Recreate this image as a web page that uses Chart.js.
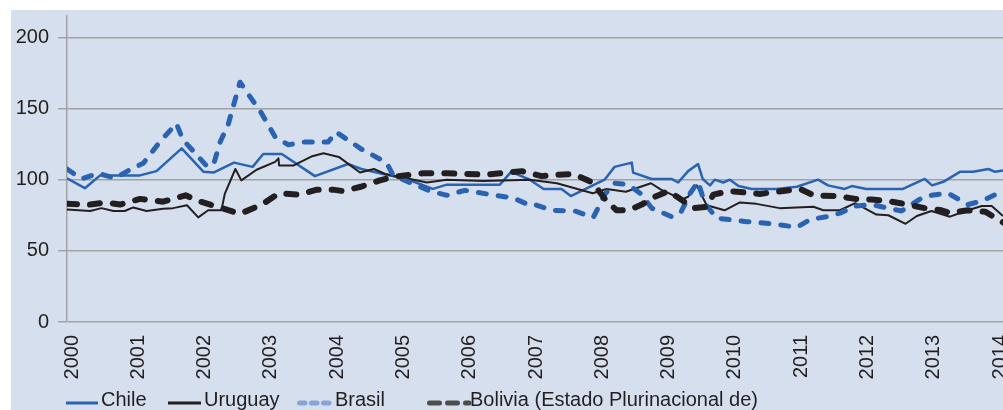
<!DOCTYPE html>
<html>
<head>
<meta charset="utf-8">
<title>Chart</title>
<script src="https://cdn.jsdelivr.net/npm/chart.js@4.4.1/dist/chart.umd.min.js"></script>
<style>
  html, body { margin: 0; padding: 0; background: #fff; }
  canvas { display: block; }
</style>
</head>
<body>
<canvas id="chartLine" width="1003" height="410"></canvas>
<script>
const yearTicks = [2000, 2001, 2002, 2003, 2004, 2005, 2006, 2007, 2008, 2009, 2010, 2011, 2012, 2013, 2014];
const yTicks = [0, 50, 100, 150, 200];
const seriesNames = ['Chile', 'Uruguay', 'Brasil', 'Bolivia (Estado Plurinacional de)'];

// fechas en años decimales
const chileT = [2000.00, 2000.27, 2000.50, 2001.10, 2001.35, 2001.73, 2002.06, 2002.21, 2002.52, 2002.80, 2002.96, 2003.24, 2003.74, 2004.24, 2004.44, 2004.77, 2005.12, 2005.52, 2005.73, 2006.53, 2006.70, 2006.98, 2007.19, 2007.46, 2007.60, 2008.11, 2008.26, 2008.52, 2008.54, 2008.82, 2009.12, 2009.22, 2009.37, 2009.52, 2009.59, 2009.70, 2009.77, 2009.90, 2010.00, 2010.13, 2010.33, 2010.70, 2011.01, 2011.33, 2011.48, 2011.73, 2011.84, 2012.06, 2012.61, 2012.94, 2013.05, 2013.22, 2013.47, 2013.67, 2013.90, 2014.00, 2014.12];
const chileV = [101, 94, 103, 103, 106, 122, 105.5, 105, 112, 109, 118, 118, 102.5, 111, 107.5, 104, 100.5, 93.5, 96.5, 96.5, 105.5, 100, 93.5, 93.5, 88.5, 100, 109, 112, 105, 100.5, 100.5, 98, 106, 111, 100.5, 96, 100, 98, 100, 95.5, 93.5, 93.5, 95, 100, 96, 93.5, 95.5, 93.5, 93.5, 100.5, 96, 98.5, 105.5, 105.5, 107.5, 105.5, 106.5];

const uruguayT = [2000.00, 2000.35, 2000.52, 2000.70, 2000.87, 2001.00, 2001.20, 2001.45, 2001.60, 2001.81, 2001.98, 2002.13, 2002.33, 2002.38, 2002.54, 2002.63, 2002.86, 2003.14, 2003.19, 2003.20, 2003.42, 2003.70, 2003.87, 2004.10, 2004.42, 2004.63, 2004.80, 2005.12, 2005.43, 2005.73, 2006.28, 2006.98, 2007.39, 2007.93, 2008.14, 2008.43, 2008.81, 2008.96, 2009.10, 2009.27, 2009.37, 2009.50, 2009.65, 2009.92, 2010.15, 2010.40, 2010.75, 2011.26, 2011.41, 2011.66, 2011.89, 2012.21, 2012.39, 2012.65, 2012.82, 2013.04, 2013.32, 2013.59, 2013.80, 2013.95, 2014.12];
const uruguayV = [79, 78, 80, 78, 78, 80.5, 78, 79.5, 80, 82, 73.5, 78.5, 78.5, 90, 107.5, 99.5, 107, 112.5, 115, 110, 110, 116.5, 118.5, 116, 105, 107.5, 104, 101, 98, 100, 99, 100, 97.5, 90.5, 93.5, 91.5, 97.5, 93, 90, 86, 88, 96, 82, 78.5, 84, 83, 80, 81, 78.5, 78.5, 83.5, 75.5, 75, 69, 74.5, 78, 74, 78.5, 81.5, 81.5, 74.5];

const brasilT = [2000.00, 2000.22, 2000.47, 2000.72, 2000.95, 2001.15, 2001.40, 2001.65, 2001.75, 2002.11, 2002.21, 2002.31, 2002.43, 2002.61, 2002.93, 2003.14, 2003.34, 2003.59, 2003.94, 2004.06, 2004.44, 2004.82, 2004.92, 2005.48, 2005.73, 2006.00, 2006.46, 2006.74, 2006.98, 2007.06, 2007.31, 2007.66, 2007.94, 2008.11, 2008.26, 2008.47, 2008.67, 2008.82, 2009.12, 2009.26, 2009.40, 2009.52, 2009.62, 2009.80, 2010.25, 2010.65, 2011.01, 2011.21, 2011.46, 2011.66, 2011.89, 2012.14, 2012.39, 2012.59, 2012.89, 2013.04, 2013.29, 2013.59, 2013.80, 2014.12];
const brasilV = [107.5, 100.5, 104.5, 101, 107, 111.5, 126.5, 139.5, 128, 109.5, 110.5, 126.5, 138.5, 168.5, 147, 130, 124.5, 126.5, 126.5, 133.5, 121.5, 112, 103, 92, 89, 92.5, 89, 87, 82, 82.5, 78.5, 78, 73.5, 89.5, 97.5, 96.5, 89.5, 80, 74, 77, 90.5, 98.5, 83.5, 73, 70.5, 69, 66.5, 72, 74, 76.5, 81.5, 82.5, 80, 78, 87, 89, 90.5, 82.5, 85, 92];

const boliviaT = [2000.00, 2000.35, 2000.57, 2000.80, 2001.10, 2001.45, 2001.79, 2001.98, 2002.23, 2002.61, 2002.94, 2003.20, 2003.50, 2003.77, 2004.01, 2004.16, 2004.43, 2004.72, 2004.92, 2005.37, 2005.73, 2006.33, 2006.86, 2007.16, 2007.41, 2007.64, 2007.93, 2008.13, 2008.29, 2008.47, 2008.67, 2008.87, 2009.07, 2009.22, 2009.45, 2009.65, 2009.75, 2010.00, 2010.45, 2011.06, 2011.26, 2011.61, 2011.89, 2012.14, 2012.39, 2012.69, 2012.94, 2013.19, 2013.32, 2013.59, 2013.85, 2014.12];
const boliviaV = [83, 82.5, 84, 82.5, 86.5, 84.5, 89, 85, 81.5, 76, 82.5, 90.5, 89.5, 93, 93, 92, 95, 99.5, 102, 104.5, 104.5, 103.5, 106, 102.5, 103.5, 104, 98, 85.5, 78.5, 78.5, 82.5, 88, 92, 87.5, 80, 81, 89.5, 92, 90, 93.5, 89, 88.5, 86.5, 86, 85, 82.5, 80, 78.5, 76.5, 78.5, 77.5, 70];

function pts(t, v) {
  return t.map((x, i) => ({x: x, y: v[i]}));
}

const blue = '#2a63b1';
const black = '#231f20';
const txt = '#231f20';
const font = {family: '"Liberation Sans", Arial, sans-serif', size: 20};

const panel = {
  id: 'panel',
  beforeDraw(chart) {
    const ctx = chart.ctx;
    ctx.save();
    ctx.fillStyle = '#ffffff';
    ctx.fillRect(0, 0, chart.width, chart.height);
    ctx.fillStyle = '#d6dfed';
    ctx.fillRect(11, 10, chart.width - 11, chart.height - 10);
    ctx.restore();
  }
};

// leyenda en una fila, como en el original
const rowLegend = {
  id: 'rowLegend',
  afterDraw(chart, args, o) {
    const ctx = chart.ctx;
    ctx.save();
    chart.data.datasets.forEach((ds, i) => {
      ctx.beginPath();
      ctx.strokeStyle = o.colors[i];
      ctx.lineWidth = o.widths[i];
      ctx.lineCap = o.dashes[i].length ? 'round' : 'butt';
      ctx.setLineDash(o.dashes[i]);
      ctx.moveTo(o.from[i], o.lineY);
      ctx.lineTo(o.to[i], o.lineY);
      ctx.stroke();
      ctx.setLineDash([]);
      ctx.fillStyle = txt;
      ctx.font = font.size + 'px ' + font.family;
      ctx.textBaseline = 'alphabetic';
      ctx.fillText(ds.label, o.textX[i], o.textY);
    });
    ctx.restore();
  }
};

const chartLine = document.getElementById('chartLine');

new Chart(chartLine, {
  type: 'line',
  data: {
    datasets: [{
      label: seriesNames[0],
      data: pts(chileT, chileV),
      borderColor: blue,
      borderWidth: 2.5,
      order: 4
    }, {
      label: seriesNames[1],
      data: pts(uruguayT, uruguayV),
      borderColor: black,
      borderWidth: 2,
      order: 3
    }, {
      label: seriesNames[2],
      data: pts(brasilT, brasilV),
      borderColor: blue,
      borderWidth: 5,
      borderDash: [8, 12],
      borderCapStyle: 'round',
      order: 2
    }, {
      label: seriesNames[3],
      data: pts(boliviaT, boliviaV),
      borderColor: black,
      borderWidth: 6,
      borderDash: [10, 13],
      borderCapStyle: 'round',
      order: 1
    }]
  },
  options: {
    responsive: false,
    animation: false,
    layout: {padding: {top: 16, left: 0, right: 0, bottom: 0}},
    elements: {
      point: {radius: 0},
      line: {tension: 0, borderJoinStyle: 'round', fill: false}
    },
    plugins: {
      legend: {display: false},
      tooltip: {enabled: false},
      rowLegend: {
        from: [66, 168, 299.5, 429.5],
        to: [98, 201, 330, 469],
        textX: [101, 204, 335, 470],
        colors: [blue, black, '#86a5d6', '#4d4d4d'],
        widths: [3, 3, 5, 5],
        dashes: [[], [], [5.5, 6.5], [10, 8]],
        lineY: 403,
        textY: 406
      }
    },
    scales: {
      x: {
        type: 'linear',
        min: 2000,
        max: 2014.12,
        afterBuildTicks: s => { s.ticks = yearTicks.map(v => ({value: v})); },
        afterFit: s => { s.height = 88; s.paddingLeft = 0; s.paddingRight = 0; },
        grid: {display: false, drawTicks: false},
        border: {display: false},
        ticks: {
          minRotation: 90,
          maxRotation: 90,
          autoSkip: false,
          padding: 13,
          labelOffset: 5,
          color: txt,
          font: font,
          callback: v => String(v)
        }
      },
      y: {
        min: 0,
        max: 215,
        afterBuildTicks: s => { s.ticks = yTicks.map(v => ({value: v})); },
        afterFit: s => { s.width = 67; s.paddingTop = 0; s.paddingBottom = 0; },
        grid: {color: '#a2a2a2', lineWidth: 1.5, tickLength: 9, drawTicks: true},
        border: {display: true, color: '#a2a2a2', width: 1.5},
        ticks: {padding: 9, color: txt, font: font}
      }
    }
  },
  plugins: [panel, rowLegend]
});
</script>
</body>
</html>
